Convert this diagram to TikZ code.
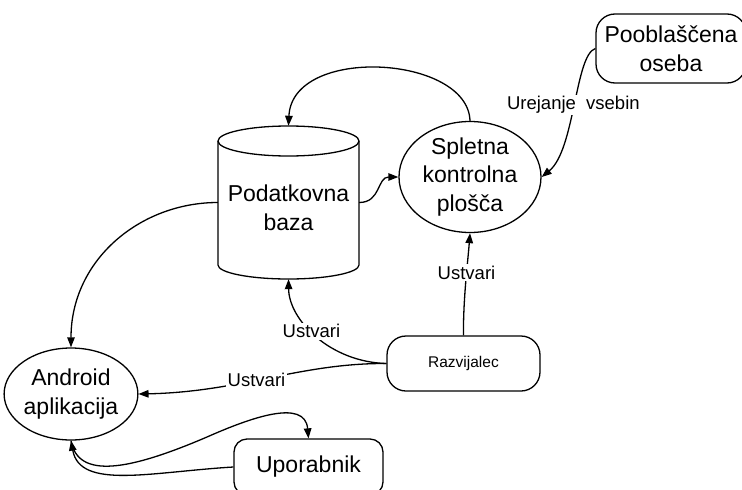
\documentclass[tikz,border=0pt]{standalone}
\usepackage{fontspec}
\setmainfont{Liberation Sans}
\usetikzlibrary{arrows.meta,shapes.geometric}
\tikzset{
  big/.style={font=\fontsize{23}{28.5}\selectfont, align=center},
  lbl/.style={font=\fontsize{18.5}{20}\selectfont, fill=white, inner sep=1.5pt},
  roundbox/.style={draw, line width=1.3pt, rounded corners=19pt, inner sep=0pt},
  oval/.style={draw, ellipse, line width=1.3pt, inner sep=0pt},
  conn/.style={line width=1.3pt, -{Triangle[length=10pt,width=7.5pt]}},
}
\begin{document}
\begin{tikzpicture}[x=1pt,y=-1pt]
\useasboundingbox (0,0) rectangle (742,490);
\fill[white] (0,0) rectangle (742,490);
\clip (0,0) rectangle (742,490);

% database cylinder
\node[minimum width=141pt, minimum height=153pt, inner sep=0pt] (db) at (288.5,202.5) {};
\draw[line width=1.3pt] (288.5,141) ellipse [x radius=70.5pt, y radius=15pt];
\draw[line width=1.3pt] (218,141) -- (218,265)
  .. controls (218,272.7) and (249.6,279) .. (288.5,279)
  .. controls (327.4,279) and (359,272.7) .. (359,265) -- (359,141);
\node[big] (dbt) at (288.5,208) {Podatkovna\\baza};

\node[oval, big, minimum width=142pt, minimum height=111pt] (spl) at (470,177) {Spletna\\kontrolna\\plošča};
\node[oval, big, minimum width=126pt, minimum height=92pt] (and) at (71,394) {Android\\aplikacija};
\node[roundbox, big, minimum width=150pt, minimum height=69pt] (pob) at (671,48.5) {Pooblaščena\\oseba};
\node[roundbox, font=\fontsize{15.5}{18}\selectfont, minimum width=153pt, minimum height=55pt] (raz) at (463.5,363.5) {Razvijalec};
\node[roundbox, big, rounded corners=13pt, minimum width=149pt, minimum height=56pt] (upo) at (308.5,467) {Uporabnik};

% connectors
\draw[conn] (spl.north) .. controls (468,55) and (292,45) .. (db.north);
\draw[conn] (db.east) .. controls (381,202.5) and (377,177) .. (spl.west);
\draw[conn] (db.west) .. controls (140,202.5) and (71,260) .. (and.north);
\draw[conn] (pob.west) .. controls (575,55) and (575,150) .. node[lbl, pos=0.5] {Urejanje\ \ vsebin} (spl.east);
\draw[conn] (raz.north) .. controls (463,300) and (468,260) .. node[lbl, pos=0.58] {Ustvari} (spl.south);
\draw[conn] (raz.west) .. controls (330,362) and (289,320) .. node[lbl, pos=0.55] {Ustvari} (db.south);
\draw[conn] (raz.west) .. controls (300,363) and (240,392) .. node[lbl, pos=0.55] {Ustvari} (and.east);
\draw[conn] (and.south) .. controls (78,480) and (130,470) .. (207,437)
  .. controls (250,418) and (305,398) .. (upo.north);
\draw[conn] (upo.west) .. controls (150,472) and (80,490) .. (and.south);
\end{tikzpicture}
\end{document}
